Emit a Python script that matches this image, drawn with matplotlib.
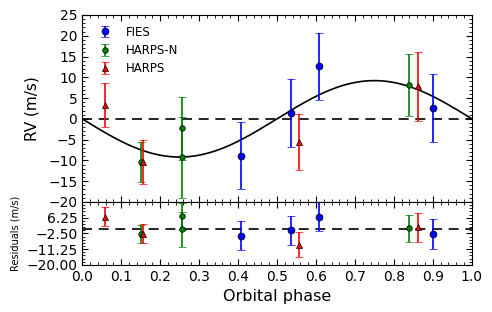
import numpy as np
import matplotlib
matplotlib.use('Agg')
import matplotlib.pyplot as plt
from matplotlib.ticker import AutoMinorLocator

# data
fies_phase = [0.407, 0.536, 0.609, 0.901]
fies_rv = [-8.9, 1.4, 12.6, 2.6]
fies_err = [8.1, 8.1, 8.1, 8.2]

harpsn_phase = [0.151, 0.256, 0.256, 0.838]
harpsn_rv = [-10.4, -2.3, -9.3, 8.1]
harpsn_err = [4.9, 7.5, 9.7, 7.4]

harps_phase = [0.059, 0.155, 0.556, 0.862]
harps_rv = [3.4, -10.4, -5.6, 7.8]
harps_err = [5.3, 5.3, 6.8, 8.3]

K = 9.2  # semi-amplitude of the model curve


def model(ph):
    return -K * np.sin(2 * np.pi * np.asarray(ph))


plt.rcParams['font.family'] = ['DejaVu Sans']
plt.rcParams['xtick.direction'] = 'in'
plt.rcParams['ytick.direction'] = 'in'
plt.rcParams['xtick.top'] = True
plt.rcParams['ytick.right'] = True

fig, (ax, axr) = plt.subplots(2, 1, figsize=(4.92, 3.12), dpi=100, sharex=True,
                              gridspec_kw={'height_ratios': [187, 63]})
fig.subplots_adjust(left=0.167, right=0.959, top=0.952, bottom=0.151, hspace=0)

sets = [
    (fies_phase, fies_rv, fies_err, 'o', 'b', 5, 'FIES'),
    (harpsn_phase, harpsn_rv, harpsn_err, 'o', 'g', 4, 'HARPS-N'),
    (harps_phase, harps_rv, harps_err, '^', 'r', 5, 'HARPS'),
]

ph = np.linspace(0, 1, 400)
ax.plot(ph, model(ph), 'k-', lw=1.2)
ax.axhline(0, color='k', ls='--', lw=1.2, dashes=(6, 4))
axr.axhline(0, color='k', ls='--', lw=1.2, dashes=(6, 4))

for p, rv, err, m, c, ms, lab in sets:
    ax.errorbar(p, rv, yerr=err, fmt=m, color=c, mec='k', mew=0.5, ms=ms,
                ecolor=c, elinewidth=1.2, capsize=3, capthick=1, label=lab)
    res = np.asarray(rv) - model(p)
    axr.errorbar(p, res, yerr=err, fmt=m, color=c, mec='k', mew=0.5, ms=ms,
                 ecolor=c, elinewidth=1.2, capsize=3, capthick=1)

ax.set_xlim(0, 1)
ax.set_ylim(-20, 25)
ax.set_yticks(np.arange(-20, 26, 5))
ax.set_ylabel('RV (m/s)', fontsize=11, labelpad=6)
ax.tick_params(labelbottom=False, labelsize=10)
ax.xaxis.set_minor_locator(AutoMinorLocator(5))
ax.yaxis.set_minor_locator(AutoMinorLocator(5))
ax.legend(loc='upper left', fontsize=8.5, frameon=False, numpoints=1,
          handletextpad=0.8, borderaxespad=0.5, labelspacing=0.45)

axr.set_ylim(-20, 15)
axr.set_yticks([-20.0, -11.25, -2.5, 6.25])
axr.set_yticklabels(['\u221220.00', '\u221211.25', '\u22122.50', '6.25'])
axr.set_xticks(np.arange(0, 1.01, 0.1))
axr.xaxis.set_minor_locator(AutoMinorLocator(5))
axr.yaxis.set_minor_locator(AutoMinorLocator(5))
axr.tick_params(labelsize=10)
axr.set_ylabel('Residuals (m/s)', fontsize=7)
axr.set_xlabel('Orbital phase', fontsize=11.5)

for a in (ax, axr):
    a.tick_params(which='major', length=4)
    a.tick_params(which='minor', length=2)

fig.savefig('out.png', dpi=100)
